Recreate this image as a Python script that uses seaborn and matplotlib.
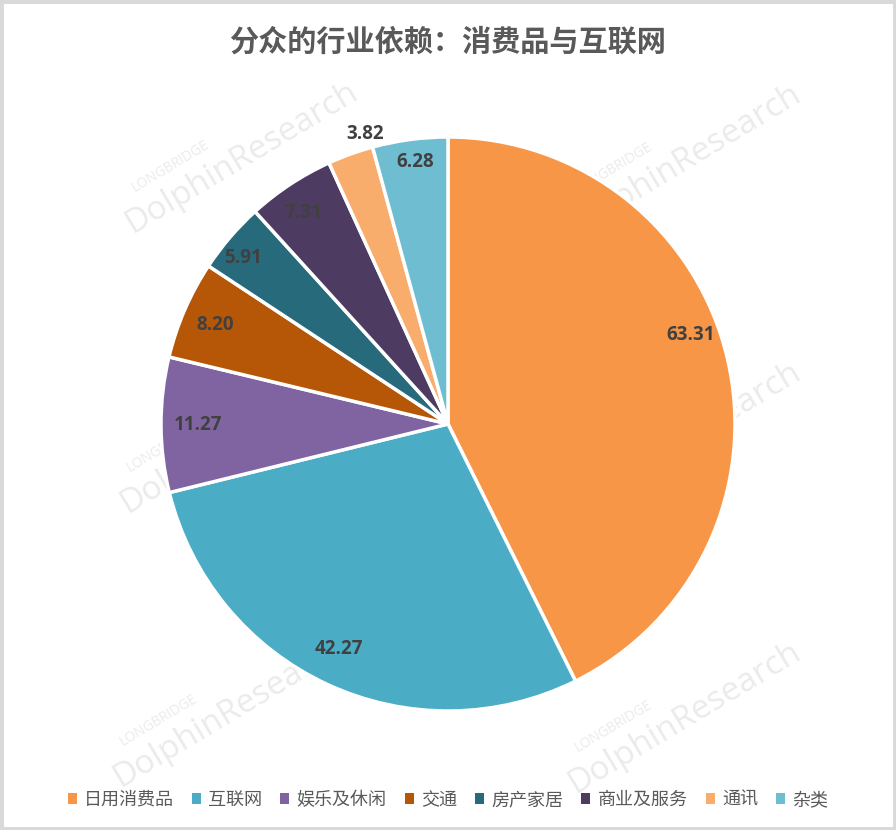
import numpy as np
import matplotlib
matplotlib.use("Agg")
import matplotlib.pyplot as plt
from matplotlib.patches import Patch, Rectangle
import seaborn as sns

# ---- data ----
categories = ["日用消费品", "互联网", "娱乐及休闲", "交通", "房产家居", "商业及服务", "通讯", "杂类"]
values = [63.31, 42.27, 11.27, 8.20, 5.91, 7.31, 3.82, 6.28]
title = "分众的行业依赖：消费品与互联网"

colors = sns.color_palette(["#F79646", "#4BACC6", "#8064A2", "#B65708",
                            "#276A7C", "#4D3B62", "#F9AD6C", "#6FBDD1"])

# label placement (fraction of radius, angle nudge in degrees)
label_r = [0.90, 0.87, 0.87, 0.88, 0.92, 0.89, 1.05, 0.92]
label_shift = [7, -1, 0, 0.5, 1.5, 1, -4, -0.5]

sns.set_theme(style="white")
plt.rcParams["font.family"] = ["Noto Sans CJK SC", "DejaVu Sans"]

fig = plt.figure(figsize=(8.96, 8.30), dpi=100)
fig.patch.set_facecolor("white")

# faint watermarks behind the pie
wm_color = "#ebebeb"
for cx, cy in [(242, 158), (685, 160), (237, 438), (685, 438), (230, 712), (685, 718)]:
    fig.text(cx / 896, 1 - cy / 830, "DolphinResearch", fontsize=24, color=wm_color,
             rotation=31, ha="center", va="center", family=["Open Sans", "DejaVu Sans"],
             zorder=0)
    fig.text((cx - 72) / 896, 1 - (cy + 8) / 830, "LONGBRIDGE", fontsize=10, color=wm_color,
             rotation=31, ha="center", va="center", family=["Open Sans", "DejaVu Sans"],
             zorder=0)

# pie axes: centre (448, 424) px, radius 287 px
ax = fig.add_axes([(448 - 287) / 896, (406 - 287) / 830, 574 / 896, 574 / 830])
ax.set_zorder(2)
ax.patch.set_alpha(0)
wedges, _ = ax.pie(values, colors=colors, startangle=90, counterclock=False,
                   wedgeprops=dict(edgecolor="white", linewidth=2.5))
for w in wedges:
    w.set_clip_on(False)
ax.set_xlim(-1, 1)
ax.set_ylim(-1, 1)
ax.set_aspect("equal")
ax.axis("off")

for w, v, r, s in zip(wedges, values, label_r, label_shift):
    ang = np.deg2rad((w.theta1 + w.theta2) / 2 + s)
    ax.text(r * np.cos(ang), r * np.sin(ang), f"{v:.2f}", ha="center", va="center",
            fontsize=13.5, fontweight="bold", color="#404040",
            family=["Open Sans", "DejaVu Sans"], clip_on=False)

fig.text(0.5, 1 - 42 / 830, title, ha="center", va="center", fontsize=21,
         fontweight="bold", color="#595959", zorder=3)

handles = [Patch(facecolor=c, edgecolor="none") for c in colors]
leg = fig.legend(handles, categories, loc="center", bbox_to_anchor=(0.5, 1 - 800 / 830),
                 ncol=8, frameon=False, fontsize=13, handlelength=0.5, handleheight=0.5,
                 handletextpad=0.4, columnspacing=1.0, labelcolor="#595959")
leg.set_zorder(3)

fig.add_artist(Rectangle((0, 0), 1, 1, transform=fig.transFigure, fill=False,
                         edgecolor="#d9d9d9", linewidth=5, zorder=4))

fig.savefig("out.png", dpi=100, facecolor="white")
